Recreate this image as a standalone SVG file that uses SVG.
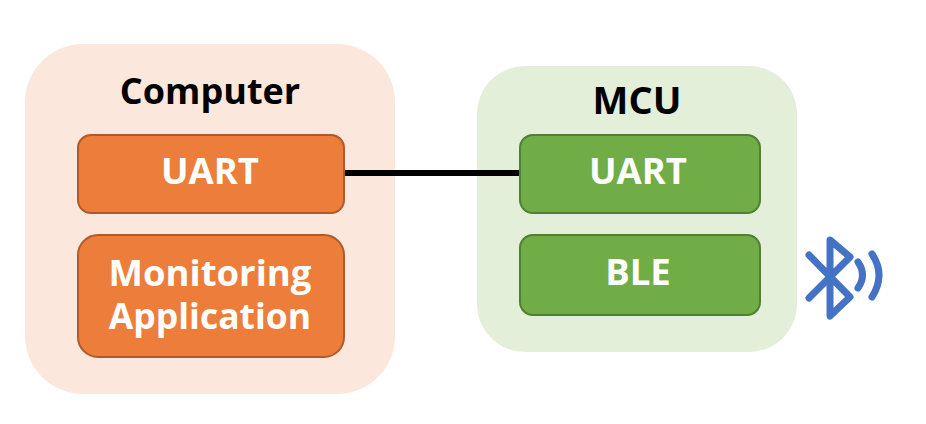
<svg xmlns="http://www.w3.org/2000/svg" width="926" height="424" viewBox="0 0 926 424">
<style>
text{font-family:"Open Sans","Noto Sans",sans-serif;font-weight:700;text-anchor:middle}
.t{font-size:36px;fill:#000}
.l{font-size:36.5px;fill:#fff}
.o{fill:#ed7d3a;stroke:#ae5a2a;stroke-width:2}
.g{fill:#70ad47;stroke:#507e32;stroke-width:2}
</style>
<rect width="926" height="424" fill="#fff"/>
<g id="computer"><rect x="25" y="44" width="370" height="350" rx="58" fill="#fbe7dc"/><text class="t" x="210" y="104">Computer</text></g>
<g id="mcu"><rect x="477" y="66" width="320" height="286" rx="48" fill="#e3efd9"/><text class="t" x="637" y="114" style="font-size:38px">MCU</text></g>
<g id="connectors"><line x1="344" y1="173" x2="520" y2="173" stroke="#000" stroke-width="6"/></g>
<g id="computer-uart"><rect class="o" x="78" y="135" width="266" height="78" rx="13"/><text class="l" x="210" y="184">UART</text></g>
<g id="monitoring"><rect class="o" x="78" y="235" width="266" height="122" rx="20"/><text class="l" x="210" y="286">Monitoring</text><text class="l" x="210" y="329" style="font-size:35.5px">Application</text></g>
<g id="mcu-uart"><rect class="g" x="520" y="135" width="240" height="78" rx="13"/><text class="l" x="638" y="184">UART</text></g>
<g id="ble"><rect class="g" x="520" y="235" width="240" height="80" rx="13"/><text class="l" x="638" y="285">BLE</text></g>
<g id="bluetooth" fill="none" stroke="#4472c4" stroke-width="7" stroke-linecap="round" stroke-linejoin="round"><path d="M809 255L850 297L830 316V240L850 257L809 298"/><path d="M858 262Q867 275 858 288M872 254Q886 275 872 297"/></g>
</svg>
